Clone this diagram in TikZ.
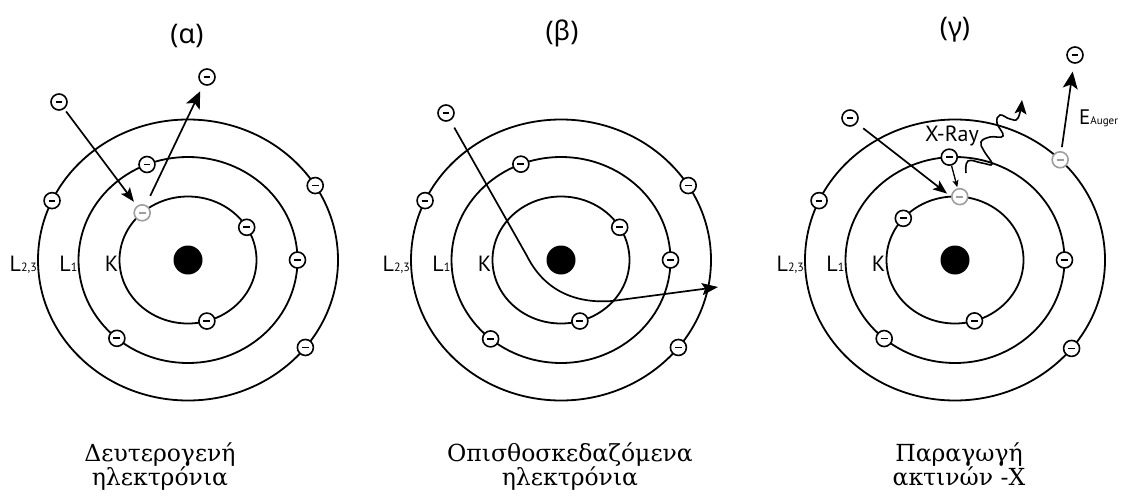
\documentclass[tikz,border=0pt]{standalone}
\usepackage{fontspec}
\setmainfont{DejaVu Serif}
\newfontfamily\headfont{Noto Sans}
\newfontfamily\labfont{PT Sans}
\usetikzlibrary{arrows.meta,calc}

\begin{document}
\begin{tikzpicture}[x=1pt,y=-1pt,
  orbit/.style={line width=1.8pt},
  electron/.style={circle, draw=#1, line width=1.6pt, fill=white,
    minimum size=16pt, inner sep=0pt,
    path picture={\draw[#1, line width=1.8pt]
      ([xshift=-3.4pt]path picture bounding box.center) --
      ([xshift=3.4pt]path picture bounding box.center);}},
  electron/.default=black,
  freed/.style={electron=black!38},
  nucleus/.style={circle, fill=black, minimum size=29pt, inner sep=0pt},
  ray/.style={line width=1.7pt, -{Stealth[length=14pt,width=11pt,inset=3pt]}},
  bigray/.style={line width=1.7pt, -{Stealth[length=17pt,width=15pt,inset=4pt]}},
  smallray/.style={line width=1.3pt, -{Stealth[length=7pt,width=6pt,inset=1.5pt]}},
  heading/.style={font=\headfont\fontsize{27}{27}\selectfont, anchor=base},
  shell/.style={font=\labfont\fontsize{22}{22}\selectfont, anchor=base east, inner sep=0pt},
  caption/.style={font=\fontsize{23.5}{24}\selectfont, align=center, anchor=base, inner sep=0pt},
]
\useasboundingbox (0,0) rectangle (1121,495);

% one atom: nucleus, three shells (K, L1, L2,3) and their labels
\foreach \n/\cx in {A/188, B/561, C/955}{
  \coordinate (\n) at (\cx,260);
  \node[nucleus] (\n-nuc) at (\n) {};
  \draw[orbit] (\n) ellipse [x radius=68.5, y radius=63.5];
  \draw[orbit] (\n) ellipse [x radius=109.5, y radius=103];
  \draw[orbit] (\n) ellipse [x radius=150, y radius=140.5];
  \node[shell] (\n-lK) at ($(\n)+(-69.5,11)$) {K};
  \node[shell] (\n-lL) at ($(\n)+(-110.5,11)$) {L{\fontsize{12}{12}\selectfont 1}};
  \node[shell] (\n-lM) at ($(\n)+(-151,11)$) {L{\fontsize{12}{12}\selectfont 2,3}};
}

% headings
\node[heading] (hA) at (187,44) {(α)};
\node[heading] (hB) at (562,41) {(β)};
\node[heading] (hC) at (955,37) {(γ)};

% ---- (α) secondary electrons
\node[electron] (a1) at ($(A)+(205:150 and 140.5)$) {};
\node[electron] (a2) at ($(A)+(248:109.5 and 103)$) {};
\node[freed]    (ak) at ($(A)+(228:68.5 and 63.5)$) {};
\node[electron] (a3) at ($(A)+(329:68.5 and 63.5)$) {};
\node[electron] (a4) at ($(A)+(328:150 and 140.5)$) {};
\node[electron] (a5) at ($(A)+(0:109.5 and 103)$) {};
\node[electron] (a6) at ($(A)+(74:68.5 and 63.5)$) {};
\node[electron] (a7) at ($(A)+(130.5:109.5 and 103)$) {};
\node[electron] (a8) at ($(A)+(38.5:150 and 140.5)$) {};
\node[electron] (ain) at (59,102) {};
\node[electron] (aout) at (207,77) {};
\draw[ray, shorten <=3pt, shorten >=5pt] (ain) -- (ak);
\draw[bigray, shorten <=10pt, shorten >=7pt] (ak) -- (aout);

% ---- (β) backscattered electrons
\node[electron] (b1) at ($(B)+(205:150 and 140.5)$) {};
\node[electron] (b2) at ($(B)+(248.5:109.5 and 103)$) {};
\node[electron] (b3) at ($(B)+(329:68.5 and 63.5)$) {};
\node[electron] (b4) at ($(B)+(328:150 and 140.5)$) {};
\node[electron] (b5) at ($(B)+(0:109.5 and 103)$) {};
\node[electron] (b6) at ($(B)+(74:68.5 and 63.5)$) {};
\node[electron] (b7) at ($(B)+(130:109.5 and 103)$) {};
\node[electron] (b8) at ($(B)+(38.5:150 and 140.5)$) {};
\node[electron] (bin) at (446,113) {};
\coordinate (bexit) at (718,287);
\draw[line width=1.7pt, -{Stealth[length=16pt,width=12pt,inset=3pt]}, shorten <=8pt]
  (bin) -- (527,256) .. controls (543,288) and (572,304) .. (612,301) -- (bexit);

% ---- (γ) X-ray and Auger emission
\node[electron] (c1) at ($(C)+(205:150 and 140.5)$) {};
\node[electron] (ct) at ($(C)+(267:109.5 and 103)$) {};
\node[freed]    (ck) at ($(C)+(274:68.5 and 63.5)$) {};
\node[electron] (c2) at ($(C)+(221:68.5 and 63.5)$) {};
\node[freed]    (cg) at ($(C)+(314.5:150 and 140.5)$) {};
\node[electron] (c3) at ($(C)+(0:109.5 and 103)$) {};
\node[electron] (c4) at ($(C)+(73.5:68.5 and 63.5)$) {};
\node[electron] (c5) at ($(C)+(130.3:109.5 and 103)$) {};
\node[electron] (c6) at ($(C)+(39:150 and 140.5)$) {};
\node[electron] (cin) at (850,118) {};
\node[electron] (cout) at (1075,55) {};
\draw[ray, shorten <=8pt, shorten >=5pt] (cin) -- (ck.west);
\draw[smallray, shorten >=1pt] (ct) -- (ck);
\draw[bigray, shorten <=4pt, shorten >=8pt] (cg) -- (cout);
\coordinate (xs) at (966,173);
\coordinate (xe) at (1022,100);
\draw[line width=1.6pt, -{Stealth[length=14pt,width=12pt,inset=3pt]}]
  plot[smooth, tension=0.75] coordinates {(xs) (968,161) (982,163) (992,164) (984,151)
    (981,142) (990,137) (1003,136) (997,123) (1000,115) (1010,119) (1018,118) (xe)};
\node[font=\labfont\fontsize{22}{22}\selectfont, anchor=base, inner sep=0pt] (xray) at (952,141) {X-Ray};
\node[anchor=base west, inner sep=0pt] (eaug) at (1079,124)
  {\labfont\fontsize{21}{21}\selectfont E\fontsize{11}{11}\selectfont Auger};

% captions (anchored on the baseline of their last line)
\node[caption] (capA) at (160,485) {Δευτερογενή\\ηλεκτρόνια};
\node[caption] (capB) at (570,485) {Οπισθοσκεδαζόμενα\\ηλεκτρόνια};
\node[caption] (capC) at (959,485) {Παραγωγή\\ακτινών -Χ};
\end{tikzpicture}
\end{document}
